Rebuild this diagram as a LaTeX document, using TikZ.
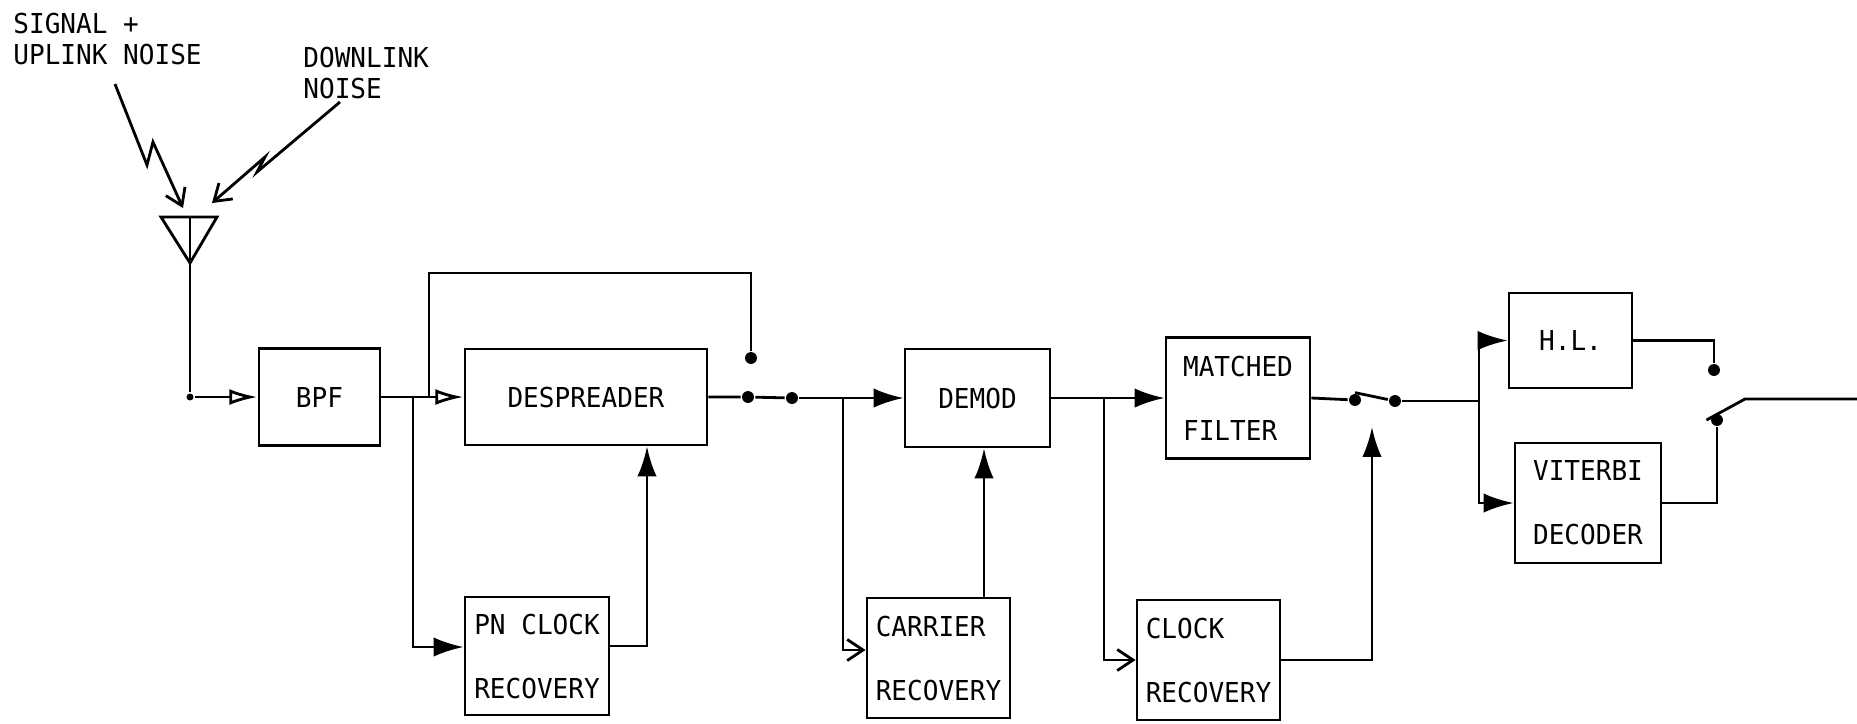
\documentclass[tikz,border=0pt]{standalone}
\usepackage{fontspec}
\newfontfamily\tty[FakeStretch=0.95]{DejaVu Sans Mono}
\usetikzlibrary{arrows.meta}
\tikzset{
  blk/.style={draw,inner sep=0pt,align=left,font=\tty\fontsize{7.8}{18.2}\selectfont},
  lbl/.style={inner sep=0pt,align=left,anchor=north west,font=\tty\fontsize{7.8}{8.6}\selectfont},
  sig/.style={-{Latex[length=8.5pt,width=5.5pt]}},
  sigo/.style={-{Latex[open,length=8pt,width=4.5pt]}},
  barb/.style={-{Straight Barb[length=4.5pt,width=6pt]}},
  dot/.style={circle,fill,inner sep=1.2pt},
}
\begin{document}
\begin{tikzpicture}[x=0.01cm,y=-0.01cm,line width=0.8pt]
\useasboundingbox (0,0) rectangle (1857,723);

\node[lbl] (l1) at (12,12) {SIGNAL +\\UPLINK NOISE};
\node[lbl] (l2) at (302,46) {DOWNLINK\\NOISE};

% antenna
\draw (161,217) -- (217,217) -- (190,263) -- cycle;
\draw (190,217) -- (190,263);
\coordinate (ant) at (190,263);

\draw [barb] (115,84) -- (147,165) -- (153,142) -- (183,208);
\draw [barb] (340,102) -- (257,172) -- (265,157) -- (212,203);

% blocks
\node[blk,minimum width=1.21cm,minimum height=0.97cm] (bpf) at (319.5,397) {BPF};
\node[blk,minimum width=2.42cm,minimum height=0.96cm] (desp) at (586,397) {DESPREADER};
\node[blk,minimum width=1.44cm,minimum height=1.18cm] (pn) at (537,656) {PN CLOCK\\RECOVERY};
\node[blk,minimum width=1.45cm,minimum height=0.98cm] (demod) at (977.5,398) {DEMOD};
\node[blk,minimum width=1.43cm,minimum height=1.20cm] (car) at (938.5,658) {CARRIER\\RECOVERY};
\node[blk,minimum width=1.44cm,minimum height=1.21cm] (mf) at (1238,398) {MATCHED\\FILTER};
\node[blk,minimum width=1.43cm,minimum height=1.20cm] (clk) at (1208.5,660) {CLOCK\\RECOVERY};
\node[blk,minimum width=1.23cm,minimum height=0.95cm] (hl) at (1570.5,340.5) {H.L.};
\node[blk,minimum width=1.46cm,minimum height=1.20cm] (vit) at (1588,503) {VITERBI\\DECODER};

% switches
\node[dot] (s1a) at (751,358) {};
\node[dot] (s1b) at (748,397) {};
\node[dot] (s1c) at (792,398) {};
\node[dot] (s2a) at (1355,400) {};
\node[dot] (s2b) at (1395,401) {};
\node[dot] (s3a) at (1714,370) {};
\node[dot] (s3b) at (1717,420) {};
\node[dot,inner sep=0.7pt] (j0) at (190,397) {};

\coordinate (j1) at (413,397);
\coordinate (j2) at (429,397);
\coordinate (j3) at (843,398);
\coordinate (j4) at (1104,398);
\coordinate (j5) at (1479,401);
\coordinate (c1) at (984,598);
\coordinate (p1) at (647,646);
\coordinate (k1) at (1372,427);
\coordinate (o1) at (1745,399);
\coordinate (out) at (1857,399);

\draw [sigo] (ant) -- (j0) -- (bpf.west);
\draw [sigo] (bpf.east) -- (desp.west);
\draw [sig] (j1) -- (413,647) -- (pn.west |- 0,647);
\draw (j2) |- (751,273) -- (s1a);
\draw [sig] (pn.east |- p1) -- (p1) -- (p1 |- desp.south);
\draw (desp.east) -- (s1b) -- (s1c);
\draw [sig] (s1c) -- (demod.west);
\draw [barb] (j3) -- (843,650) -- (car.west |- 0,650);
\draw [sig] (c1) -- (c1 |- demod.south);
\draw [sig] (demod.east) -- (mf.west);
\draw [barb] (j4) |- (clk.west);
\draw [sig] (clk.east) -| (k1);
\draw (mf.east) -- (s2a);
\draw (s2a.north) -- (s2b);
\draw (s2b) -- (j5);
\draw [sig] (j5) |- (hl.west);
\draw [sig] (j5) |- (vit.west);
\draw (hl.east) -| (s3a);
\draw (vit.east) -| (s3b);
\draw ([xshift=-3pt]s3b.center) -- (o1) -- (out);
\end{tikzpicture}
\end{document}
